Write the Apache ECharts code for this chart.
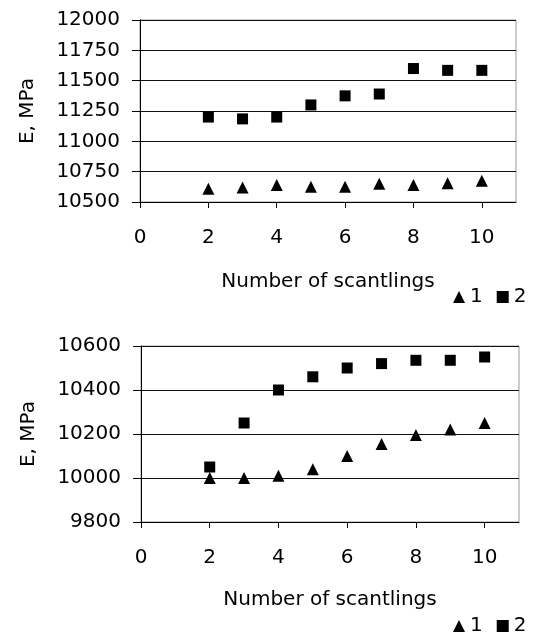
<!DOCTYPE html>
<html>
<head>
<meta charset="utf-8">
<script src="https://cdn.jsdelivr.net/npm/echarts@6/dist/echarts.min.js"></script>
<style>
  html, body { margin: 0; padding: 0; background: #fff; }
  #chart_e { width: 542px; height: 633px; }
</style>
</head>
<body>
<div id="chart_e"></div>
<script>
// number of scantlings
var scantlings = [2, 3, 4, 5, 6, 7, 8, 9, 10];
var xTicks = [0, 2, 4, 6, 8, 10];

// upper chart
var upper1 = [10610, 10620, 10640, 10625, 10625, 10650, 10640, 10655, 10675];
var upper2 = [11200, 11185, 11200, 11300, 11375, 11390, 11600, 11585, 11585];

// lower chart
var lower1 = [10000, 10000, 10010, 10040, 10100, 10155, 10195, 10220, 10250];
var lower2 = [10050, 10250, 10400, 10460, 10500, 10520, 10535, 10535, 10550];

var myChartE = echarts.init(document.getElementById('chart_e'));

function pairs(xs, ys) {
  var out = [];
  for (var i = 0; i < xs.length; i++) {
    out.push([xs[i], ys[i]]);
  }
  return out;
}

var fontName = 'DejaVu Sans';
var fs = 20;

function xAx(gridIndex, gap) {
  return {
    type: 'value',
    gridIndex: gridIndex,
    min: 0,
    max: 11,
    interval: 2,
    name: 'Number of scantlings',
    nameLocation: 'middle',
    nameGap: gap,
    nameTextStyle: { fontFamily: fontName, fontSize: fs, color: '#000' },
    axisLine: { show: true, lineStyle: { color: '#000', width: 1 } },
    axisTick: { show: true, length: 6, customValues: xTicks, lineStyle: { color: '#000' } },
    axisLabel: { customValues: xTicks, margin: 26, fontFamily: fontName, fontSize: fs, color: '#000' },
    splitLine: { show: false }
  };
}

function yAx(gridIndex, min, max, step) {
  return {
    type: 'value',
    gridIndex: gridIndex,
    min: min,
    max: max,
    interval: step,
    name: 'E, MPa',
    nameLocation: 'middle',
    nameGap: 102,
    nameTextStyle: { fontFamily: fontName, fontSize: fs, color: '#000' },
    axisLine: { show: true, lineStyle: { color: '#000', width: 1 } },
    axisTick: { show: true, length: 8, lineStyle: { color: '#000' } },
    axisLabel: {
      margin: 20, fontFamily: fontName, fontSize: fs, color: '#000',
      formatter: function (v) { return String(v); }
    },
    splitLine: { show: true, lineStyle: { color: '#111', width: 1 } }
  };
}

function legendAt(top) {
  return {
    left: 448,
    top: top,
    itemWidth: 12,
    itemHeight: 12,
    itemGap: 14,
    textStyle: { fontFamily: fontName, fontSize: fs, color: '#000' },
    data: [
      { name: '1', icon: 'triangle' },
      { name: '2', icon: 'rect' }
    ]
  };
}

var markStyle = { color: '#000', opacity: 1 };

var option = {
  animation: false,
  backgroundColor: '#fff',
  grid: [
    { left: 140, top: 20, width: 376, height: 182, show: true, borderColor: '#999', borderWidth: 1, backgroundColor: 'transparent' },
    { left: 141, top: 346, width: 378, height: 176, show: true, borderColor: '#999', borderWidth: 1, backgroundColor: 'transparent' }
  ],
  legend: [legendAt(282), legendAt(611)],
  xAxis: [xAx(0, 70), xAx(1, 68)],
  yAxis: [yAx(0, 10500, 12000, 250), yAx(1, 9800, 10600, 200)],
  series: [
    {
      name: '1', type: 'scatter', xAxisIndex: 0, yAxisIndex: 0,
      symbol: 'triangle', symbolSize: 12,
      itemStyle: markStyle,
      data: pairs(scantlings, upper1)
    },
    {
      name: '2', type: 'scatter', xAxisIndex: 0, yAxisIndex: 0,
      symbol: 'rect', symbolSize: 11,
      itemStyle: markStyle,
      data: pairs(scantlings, upper2)
    },
    {
      name: '1', type: 'scatter', xAxisIndex: 1, yAxisIndex: 1,
      symbol: 'triangle', symbolSize: 12,
      itemStyle: markStyle,
      data: pairs(scantlings, lower1)
    },
    {
      name: '2', type: 'scatter', xAxisIndex: 1, yAxisIndex: 1,
      symbol: 'rect', symbolSize: 11,
      itemStyle: markStyle,
      data: pairs(scantlings, lower2)
    }
  ]
};

myChartE.setOption(option);
</script>
</body>
</html>
